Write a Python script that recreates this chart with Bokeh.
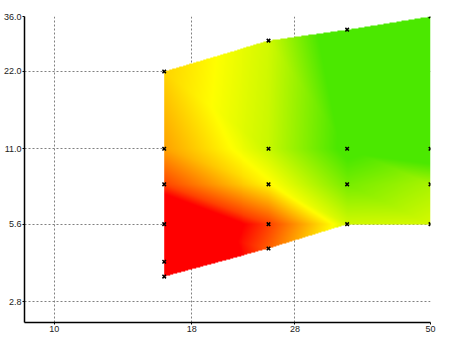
import numpy as np
from bokeh.plotting import figure
from bokeh.models import FixedTicker, Range1d
from bokeh.embed import file_html
from bokeh.resources import INLINE

# ---- data ----
x_vals = [16, 16, 16, 16, 16, 16, 25, 25, 25, 25, 25, 35, 35, 35, 35, 50, 50, 50, 50]
y_vals = [22, 11, 8, 5.6, 4, 3.5, 29, 11, 8, 5.6, 4.5, 32, 11, 8, 5.6, 36, 11, 8, 5.6]
z_vals = [50, 38, 16, -50, -60, -60, 70, 72, 58, 15, 22, 118, 104, 90, 70, 112, 115, 79, 69]

x_ticks = [10, 18, 28, 50]
x_tick_labels = ["10", "18", "28", "50"]
y_ticks = [2.8, 5.6, 11.0, 22.0, 36.0]
y_tick_labels = ["2.8", "5.6", "11.0", "22.0", "36.0"]

# colour stops (value -> rgb)
stop_vals = [0, 60, 100]
stop_rgb = [(255, 0, 0), (255, 255, 0), (75, 232, 0)]

# ---- mesh between neighbouring columns, in screen-like log space ----
KX, KY = 540.8, 256.96
pts = [(np.log10(x) * KX, np.log10(y) * KY) for x, y in zip(x_vals, y_vals)]
cols = sorted(set(x_vals))
col_idx = [sorted([i for i, x in enumerate(x_vals) if x == c], key=lambda i: y_vals[i]) for c in cols]


def d2(a, b):
    return (pts[a][0] - pts[b][0]) ** 2 + (pts[a][1] - pts[b][1]) ** 2


tris = []
for L, R in zip(col_idx[:-1], col_idx[1:]):
    i = j = 0
    while i < len(L) - 1 or j < len(R) - 1:
        if i == len(L) - 1:
            adv_left = False
        elif j == len(R) - 1:
            adv_left = True
        else:
            adv_left = d2(L[i + 1], R[j]) <= d2(L[i], R[j + 1])
        if adv_left:
            tris.append((L[i], R[j], L[i + 1]))
            i += 1
        else:
            tris.append((L[i], R[j], R[j + 1]))
            j += 1

lx0, lx1 = np.log10(min(x_vals)), np.log10(max(x_vals))
ly0, ly1 = np.log10(min(y_vals)), np.log10(max(y_vals))
nx = int(round((lx1 - lx0) * KX))
ny = int(round((ly1 - ly0) * KY))
gu = (lx0 + (np.arange(nx) + 0.5) / nx * (lx1 - lx0)) * KX
gv = (ly0 + (np.arange(ny) + 0.5) / ny * (ly1 - ly0)) * KY
GU, GV = np.meshgrid(gu, gv)
Z = np.full(GU.shape, np.nan)
zv = np.array(z_vals, float)
for (a, b, c) in tris:
    x1, y1 = pts[a]; x2, y2 = pts[b]; x3, y3 = pts[c]
    det = (y2 - y3) * (x1 - x3) + (x3 - x2) * (y1 - y3)
    if abs(det) < 1e-9:
        continue
    l1 = ((y2 - y3) * (GU - x3) + (x3 - x2) * (GV - y3)) / det
    l2 = ((y3 - y1) * (GU - x3) + (x1 - x3) * (GV - y3)) / det
    l3 = 1 - l1 - l2
    m = (l1 >= -1e-6) & (l2 >= -1e-6) & (l3 >= -1e-6)
    Z[m] = (l1 * zv[a] + l2 * zv[b] + l3 * zv[c])[m]

img = np.zeros((ny, nx), dtype=np.uint32)
view = img.view(dtype=np.uint8).reshape((ny, nx, 4))
Zc = np.clip(np.nan_to_num(Z, nan=0.0), stop_vals[0], stop_vals[-1])
for ch in range(3):
    view[:, :, ch] = np.interp(Zc, stop_vals, [c[ch] for c in stop_rgb]).astype(np.uint8)
view[:, :, 3] = np.where(np.isnan(Z), 0, 255).astype(np.uint8)

# ---- figure ----
p = figure(width=450, height=337, x_axis_type="log", y_axis_type="log",
           x_range=Range1d(8.8, 50), y_range=Range1d(2.32, 36),
           output_backend="svg", toolbar_location=None,
           min_border_left=22, min_border_right=20, min_border_top=16, min_border_bottom=15)
p.outline_line_color = None
p.background_fill_color = "white"
p.border_fill_color = "white"

p.image_rgba(image=[img], x=min(x_vals), y=min(y_vals),
             dw=max(x_vals) - min(x_vals), dh=max(y_vals) - min(y_vals))
p.scatter(x_vals, y_vals, marker="x", size=5, line_color="black", line_width=1.5)

for ax, ticks, labels in ((p.xaxis[0], x_ticks, x_tick_labels), (p.yaxis[0], y_ticks, y_tick_labels)):
    ax.ticker = FixedTicker(ticks=ticks, minor_ticks=[])
    ax.major_label_overrides = {t: l for t, l in zip(ticks, labels)}
    ax.axis_line_color = "black"
    ax.axis_line_width = 1.5
    ax.major_tick_out = 2
    ax.major_tick_in = 0
    ax.major_tick_line_color = "black"
    ax.minor_tick_line_color = None
    ax.major_label_text_font = "Liberation Sans"
    ax.major_label_text_font_size = "9px"
    ax.major_label_text_color = "#222222"
    ax.major_label_standoff = 1

for g in (p.xgrid[0], p.ygrid[0]):
    g.grid_line_color = "#808080"
    g.grid_line_dash = "2 2"
    g.grid_line_width = 1

open("out.html", "w").write(file_html(p, INLINE))
